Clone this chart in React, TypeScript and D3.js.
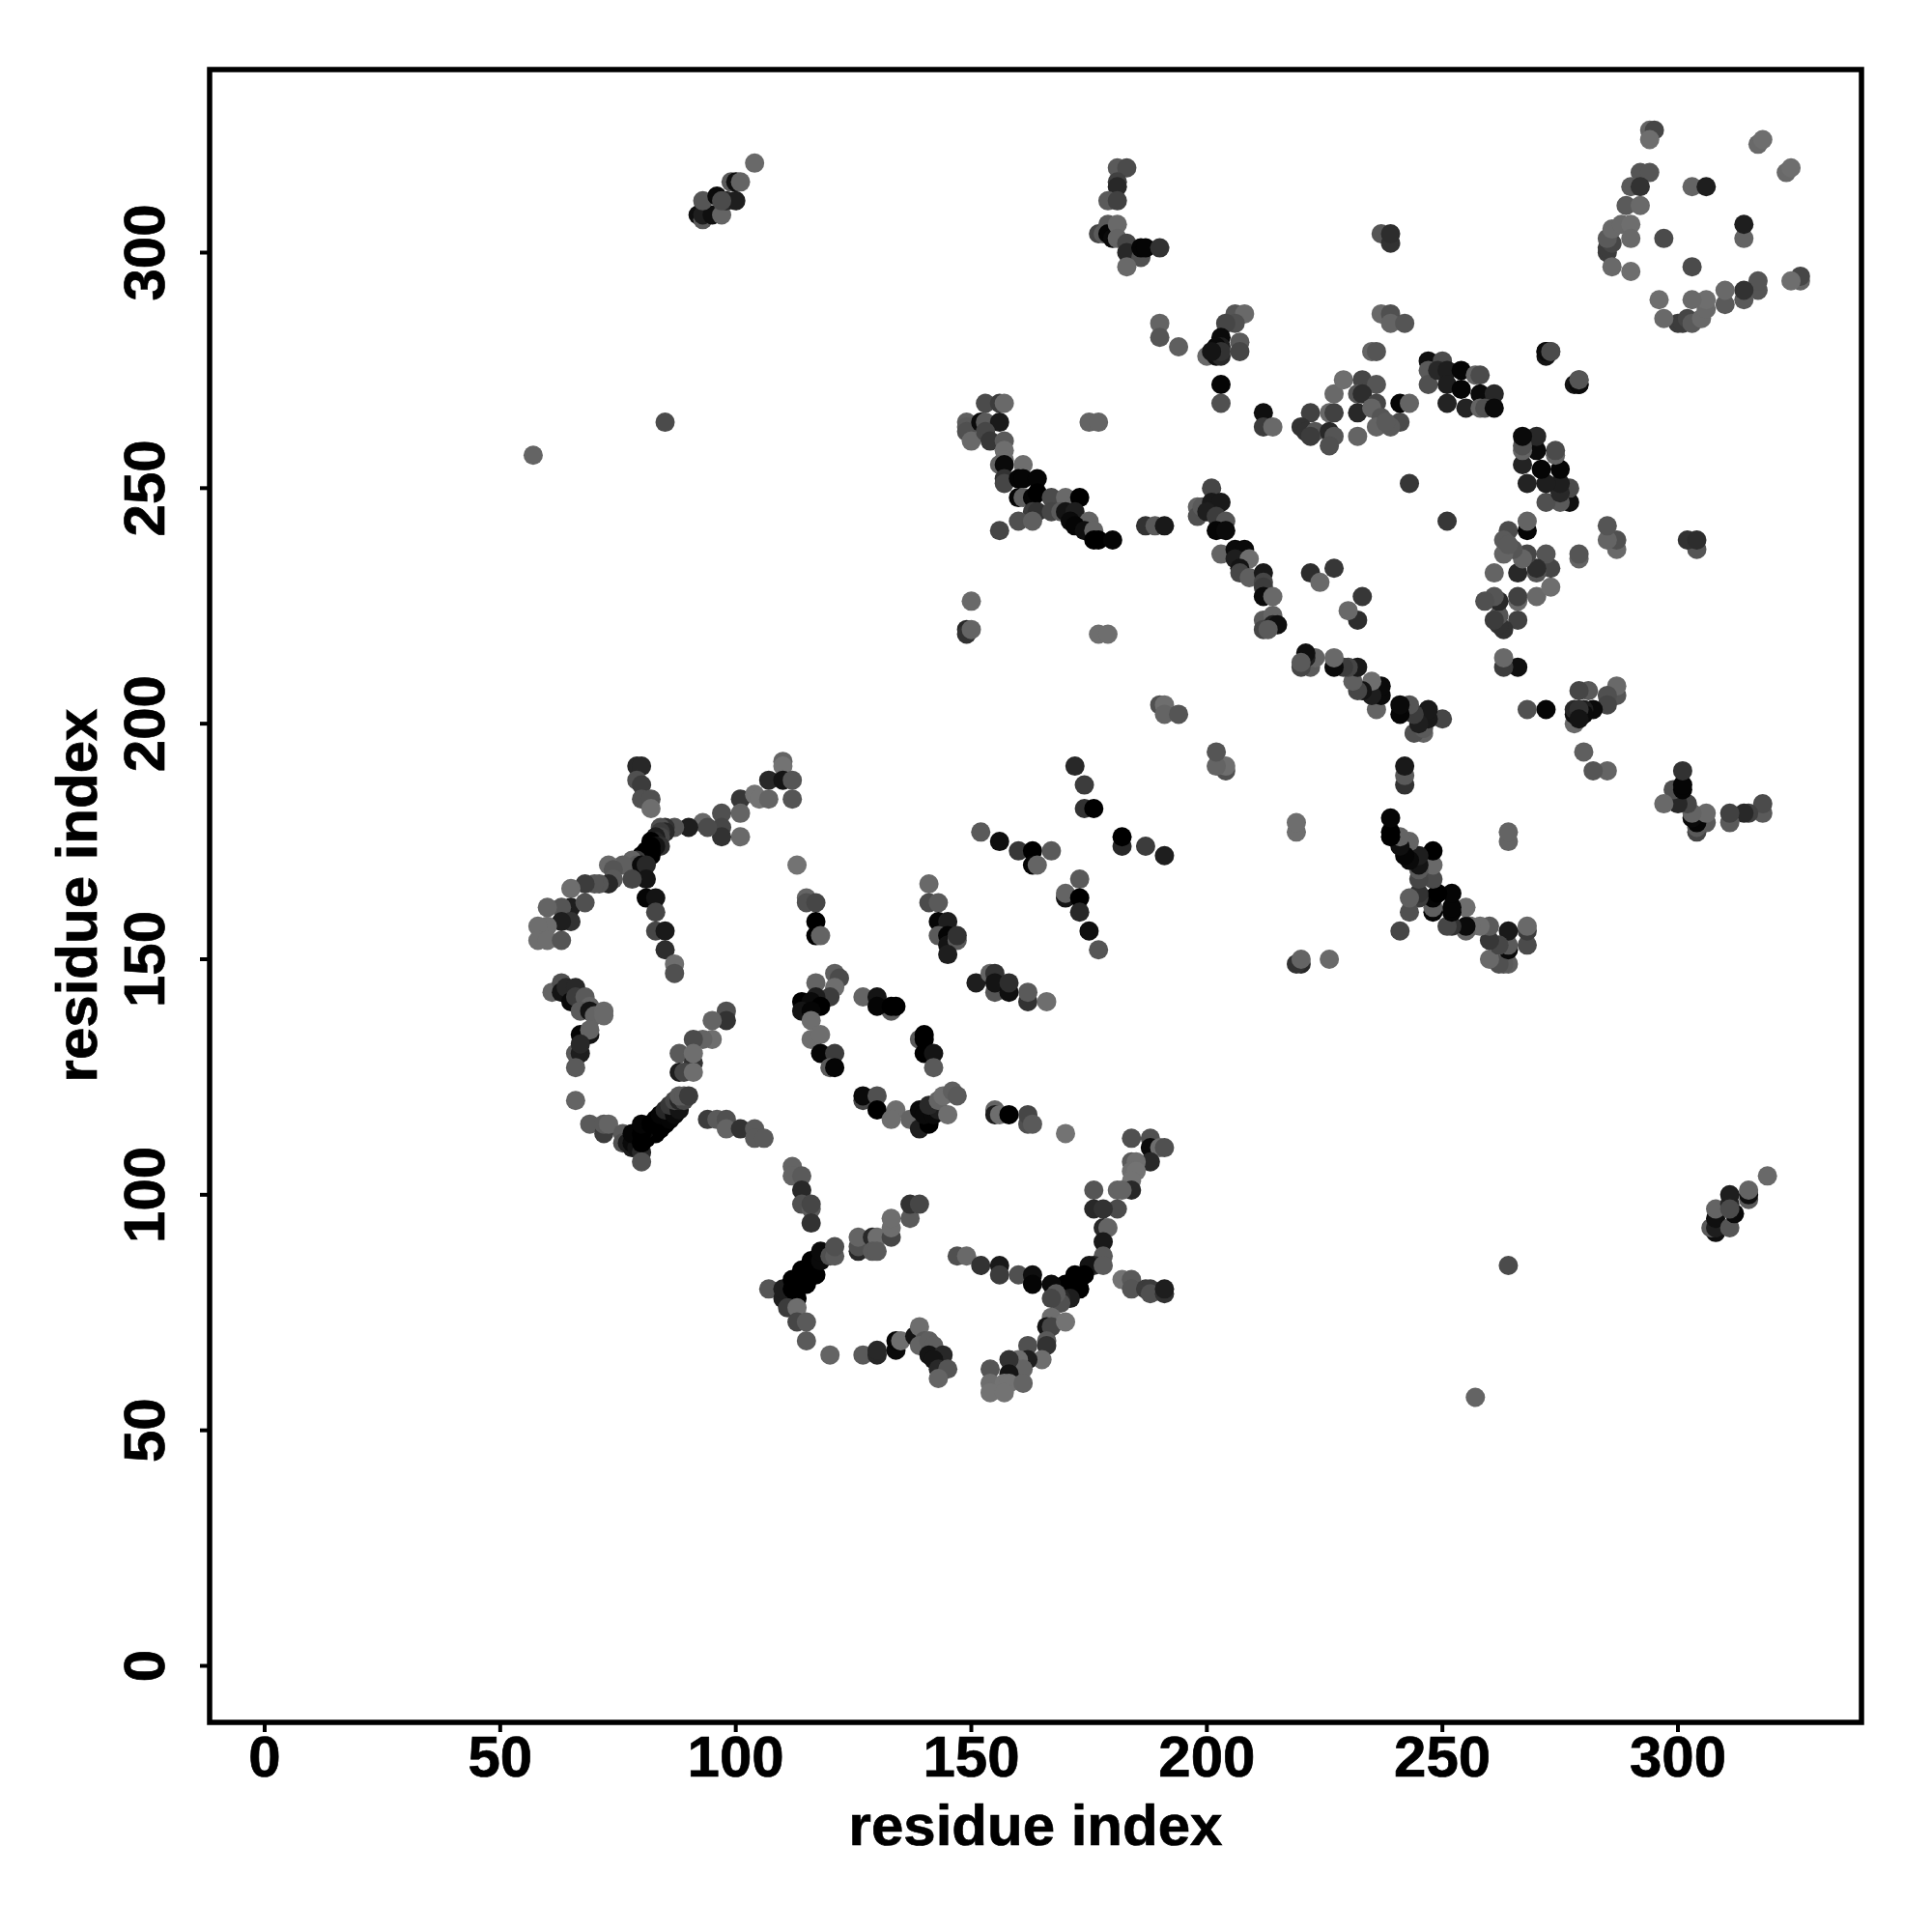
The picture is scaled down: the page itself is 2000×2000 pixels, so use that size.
import React from "react";
import * as d3 from "d3";

type P = [number, number, number];

const xTicks = [0, 50, 100, 150, 200, 250, 300];
const yTicks = [0, 50, 100, 150, 200, 250, 300];
const axisTitle = "residue index";

// Contacts read directly: residue i, residue j, grey level
const lowerCrossA: P[] = [
[79,191,40],[80,191,40],[79,188,80],[80,187,60],[80,184,80],[82,184,80],[82,182,110],
[110,192,100],[110,191,115],[107,188,40],[110,188,20],[112,188,85],[112,184,85],[101,184,55],[104,185,115],[105,184,115],[107,184,100],
[101,181,100],[97,181,80],[101,176,105],[97,178,70],[97,176,50],[93,179,105],[94,178,75],[90,178,30],[87,178,85],[85,178,50],[84,178,80],
[85,177,40],[84,177,60],[84,176,70],[83,176,30],[83,175,40],[82,175,0],[84,174,50],[83,174,20],[82,174,0],[82,173,0],[81,173,0],[81,172,0],[80,172,0],[80,171,0],[82,172,0],[81,171,0],[79,171,60],[78,171,100],[79,170,90],[76,170,95],[73,170,105],[74,169,85],[74,167,90],[80,170,10],[81,170,40],
[81,167,20],[78,167,70],[73,166,40],[71,166,85],[70,166,85],[68,166,60],[65,165,110],[65,161,30],[68,162,80],[63,161,85],[60,161,100],[65,158,50],[63,158,30],[60,157,110],[58,157,110],[58,154,110],[60,154,110],[63,154,85],
[81,163,5],[83,163,20],[83,160,70],[83,156,70],[85,156,25],[85,152,45],[87,149,110],[87,147,80],
];
const lowerCrossB: P[] = [
[61,143,100],[63,145,80],[63,143,20],[64,144,40],[65,141,10],[66,144,40],[66,142,60],[68,142,90],[69,140,100],[67,139,90],[69,139,20],[70,138,100],[72,139,105],[72,138,105],
[67,134,5],[69,134,20],[69,135,100],[66,130,90],[67,130,30],[67,132,40],[66,127,90],[66,120,100],[69,115,90],[72,113,60],[72,115,90],[73,115,100],[76,113,90],[76,111,80],
[78,110,30],[77,111,30],[78,111,10],[79,110,20],[80,109,40],[78,113,5],[80,111,0],[81,112,0],[82,113,0],[83,113,0],[81,114,10],[80,113,0],[80,115,5],[82,115,0],[83,116,0],[84,114,0],[85,115,0],[84,117,5],[86,116,5],[85,118,40],[87,117,10],[86,119,55],[88,118,20],[87,120,70],[88,120,40],[89,120,70],[88,121,90],[89,121,90],[90,121,60],[80,107,80],
[94,116,60],[96,116,90],[98,116,80],[98,114,100],[101,114,50],[104,114,90],[104,112,90],[106,112,90],
[98,139,80],[98,137,50],[95,137,100],[95,133,110],[93,133,100],[91,133,75],[88,130,90],[91,128,50],[91,130,110],[88,126,30],[89,126,70],[91,126,110],
[115,163,100],[115,162,80],[117,162,70],[117,158,0],[117,155,0],[118,155,100],[113,170,115],
[141,166,105],[141,162,75],[143,162,90],[143,158,5],[145,158,30],[143,155,90],[145,155,5],[145,153,20],[147,154,90],[147,155,50],[145,151,30],
];
const innerLoop: P[] = [
[121,147,95],[122,146,75],[121,144,110],[117,145,100],[120,142,60],[117,142,30],[114,141,0],[116,141,10],[118,140,0],[114,139,20],[116,139,5],[116,137,110],[116,133,110],[118,134,110],[118,130,5],[121,130,60],[120,127,90],[121,127,5],
[127,142,100],[130,142,20],[133,139,90],[130,140,5],[133,140,0],[134,140,0],
[139,133,90],[140,134,0],[140,133,0],[140,130,0],[142,130,20],[142,127,90],
[127,120,70],[127,121,10],[130,121,80],[130,118,0],[134,118,110],[133,116,110],[137,116,100],[139,114,30],[139,118,10],[141,115,0],[140,117,10],[142,117,10],[143,118,30],[141,119,40],[143,120,100],[145,117,110],[144,121,110],[146,122,95],[147,121,90],
];
const centreCross: P[] = [
[172,191,40],[174,187,60],[174,182,50],[176,182,0],[182,174,40],[182,176,0],[187,174,60],[191,172,30],
[152,177,90],[156,175,15],[160,173,55],[163,173,0],[167,173,90],[163,170,5],[164,170,100],
[173,167,90],[170,163,20],[170,164,100],[173,163,0],[173,160,40],[175,156,15],[177,152,85],
[151,145,30],[154,147,100],[155,143,85],[155,147,50],[155,145,20],[158,143,15],[158,145,45],[162,141,50],[162,143,90],[166,141,110],
[155,118,100],[155,117,30],[156,117,110],[158,117,0],[162,115,80],[162,117,70],[163,115,90],[170,113,115],
];
const lowerRightArm: P[] = [
[184,112,80],[188,112,80],[188,110,10],[190,110,110],[191,110,80],[188,107,40],[184,107,90],[185,107,110],[184,105,110],[185,105,115],[184,103,115],[184,101,40],[181,101,100],[182,101,100],[176,101,85],
[181,97,75],[176,97,40],[178,97,50],[178,93,40],[179,93,100],[178,90,25],[178,87,90],[176,85,40],[175,85,20],[178,85,90],[174,83,0],[172,83,0],[173,80,0],[171,81,0],[170,81,0],[171,78,30],[169,78,40],[169,77,80],[167,81,10],[168,79,90],[167,78,70],
[167,74,110],[166,72,20],[167,72,70],[170,73,115],[166,69,90],[166,68,50],[165,65,110],[162,68,80],[162,65,30],[160,65,110],[161,63,100],[158,65,50],[158,62,20],[154,63,85],[154,60,110],[157,60,115],[158,60,115],[161,60,100],[154,58,115],[157,58,115],
[147,87,80],[149,87,105],[152,85,50],[156,85,25],[156,83,60],[160,83,80],[163,83,15],[163,81,5],
[182,82,115],[184,82,90],[184,80,85],[187,80,60],[188,80,60],[188,79,80],[191,79,50],[191,80,30],
];
const lowerLeftArm: P[] = [
[112,106,100],[112,104,100],[114,104,90],[114,101,40],[114,98,80],[116,97,90],[116,98,70],[116,94,50],
[107,80,85],[110,78,30],[110,80,30],[113,78,0],[112,80,0],[113,80,0],[112,82,0],[114,82,0],[115,81,0],[114,84,0],[117,83,0],[116,86,0],[118,86,10],[118,88,10],[120,87,80],[121,87,90],[121,89,80],
[111,76,60],[113,76,110],[113,73,70],[115,73,90],[115,69,90],[120,66,100],
[126,88,40],[126,89,80],[126,91,100],[129,91,40],[130,91,110],[129,88,90],[130,88,90],[133,91,70],[133,93,110],[133,95,110],[137,95,90],[137,98,50],[139,98,70],
[127,66,90],[130,66,40],[130,67,40],[134,67,10],[134,69,5],[135,69,110],[138,70,20],[139,72,110],[140,69,90],[139,68,100],[141,69,95],[142,68,95],[141,66,20],[144,66,40],[142,65,20],[143,63,40],[145,63,85],[143,61,100],
];

// Contacts above the diagonal; each one is also drawn at its mirror position
const farContacts: P[] = [
[57,257,100],[85,264,75],
[92,308,15],[93,307,90],[93,308,30],[95,308,15],[97,308,100],[93,311,85],[96,312,10],[98,311,40],[100,311,30],[97,311,75],[99,315,90],[100,315,15],[101,315,100],[104,319,105],
];
const strandNear155: P[] = [
[153,268,75],[156,268,60],[157,268,105],[149,264,95],[149,263,90],[149,262,80],[150,260,105],[152,264,10],[153,264,90],[156,264,25],[153,262,70],[154,260,55],
[157,260,90],[157,258,110],[157,256,110],[156,255,100],[157,255,10],[157,252,50],[157,251,70],[161,255,110],
[160,252,5],[161,252,5],[164,252,5],[160,248,5],[161,248,95],[163,248,5],[164,249,0],[163,245,60],[164,245,50],[160,243,80],[163,243,95],[156,241,70],
[167,248,75],[170,248,105],[173,248,0],[167,245,70],[169,245,90],[170,245,20],[172,245,30],[171,243,10],[175,243,100],[172,242,5],[174,241,15],[176,241,100],[176,239,0],[177,239,0],[180,239,5],
[187,242,50],[189,242,90],[191,242,25],
[175,264,100],[177,264,100],[150,226,105],[149,220,40],[149,219,50],[150,220,100],[177,219,110],[179,219,110],
[190,204,80],[191,204,110],[191,202,100],[194,202,85],
];
const strandNear205: P[] = [
[201,250,70],[198,246,100],[198,244,80],[199,246,90],[201,247,25],[203,247,25],[200,245,30],[202,244,60],[204,243,85],[202,241,5],[204,241,10],
[203,236,100],[206,237,10],[208,237,10],[206,235,30],[209,235,110],[207,233,20],[207,232,70],[209,231,95],[212,232,25],[212,230,70],[212,229,60],[212,227,10],[214,227,105],
[212,222,90],[212,220,70],[214,223,100],[214,221,30],[215,221,15],[213,220,90],
[222,232,45],[227,233,55],[224,230,105],
];
const clusterNear180: P[] = [
[181,318,90],[183,318,75],[181,315,65],[181,314,40],[179,311,90],[181,311,65],[177,304,70],[178,304,90],[179,306,90],[179,304,5],[180,303,10],[181,306,105],[181,303,100],[183,302,70],[183,300,40],[186,299,80],[186,301,5],[187,301,5],[190,301,50],[183,297,105],
[190,285,100],[190,282,85],[194,280,95],
[206,287,85],[208,287,105],[206,285,80],[204,285,70],[203,282,10],[207,281,90],[207,279,70],[203,280,30],[202,280,10],[200,278,105],[202,278,15],[203,278,40],[203,279,50],[201,279,20],[203,272,5],[203,268,80],
];
const clusterNear230: P[] = [
[212,266,15],[212,263,60],[214,263,105],
[222,266,65],[220,263,50],[221,262,50],[223,262,85],[222,261,60],[226,266,105],[227,266,65],[226,262,40],[227,261,85],[226,259,80],[227,270,105],[229,273,110],
[233,273,70],[236,272,85],[232,270,85],[233,270,45],[232,266,40],[236,268,70],[235,267,100],[237,265,85],[241,264,75],[232,261,100],[236,263,100],[239,263,90],[238,264,90],[241,268,5],[243,268,100],
[235,279,100],[236,279,85],[237,287,105],[239,287,80],[239,285,100],[242,285,85],[237,304,85],[239,302,50],[239,304,45],[243,251,55],
];
const clusterNear255: P[] = [
[247,277,15],[247,275,90],[247,272,80],[250,277,75],[249,275,40],[251,275,30],[251,272,30],[254,275,5],[254,271,5],[257,274,100],[258,274,75],[258,270,10],[261,270,40],[251,268,35],[255,267,35],[258,267,100],[259,267,80],[261,267,10],
[272,279,10],[273,279,85],[278,272,20],[279,272,10],[279,273,75],
];
const clusterNear295: P[] = [
[294,326,100],[295,326,70],[294,324,110],[292,317,85],[294,317,85],[290,314,90],[292,314,50],[289,310,90],[292,310,105],
[285,300,60],[285,301,60],[286,302,70],[285,303,90],[286,305,105],[288,306,105],[290,306,110],[290,303,105],[286,297,105],[290,296,110],
[297,303,75],[303,314,100],[306,314,30],[317,323,105],[318,324,110],
];

const directContacts = [...lowerCrossA, ...lowerCrossB, ...innerLoop, ...centreCross, ...lowerRightArm, ...lowerLeftArm];
const mirroredContacts = [...farContacts, ...strandNear155, ...strandNear205, ...clusterNear180, ...clusterNear230, ...clusterNear255, ...clusterNear295];

export default function App() {
  const x = d3.scaleLinear().domain([0, 300]).range([274, 1737]);
  const y = d3.scaleLinear().domain([0, 300]).range([1724.5, 261.5]);
  const left = 217, right = 1927, top = 72, bottom = 1783;
  const font = "'Liberation Sans', Arial, Helvetica, sans-serif";
  const grey = (g: number) => d3.rgb(g, g, g).formatHex();
  const all: P[] = [...directContacts, ...mirroredContacts, ...mirroredContacts.map(([a, b, g]) => [b, a, g] as P)];
  const label = { fontFamily: font, fontWeight: "bold" as const, fontSize: 60, stroke: "#000", strokeWidth: 0.7 };
  return (
    <svg width={2000} height={2000} style={{ position: "absolute", left: 0, top: 0, background: "#fff" }}>
      {all.map(([a, b, g], k) => (
        <circle key={k} cx={x(a)} cy={y(b)} r={10} fill={grey(g)} />
      ))}
      <rect x={left} y={top} width={right - left} height={bottom - top} fill="none" stroke="#000" strokeWidth={5.5} />
      {xTicks.map((t) => (
        <g key={t}>
          <line x1={x(t)} x2={x(t)} y1={bottom} y2={bottom + 10} stroke="#000" strokeWidth={4} />
          <text x={x(t)} y={1839} textAnchor="middle" {...label}>{t}</text>
        </g>
      ))}
      {yTicks.map((t) => (
        <g key={t}>
          <line x1={left} x2={left - 10} y1={y(t)} y2={y(t)} stroke="#000" strokeWidth={4} />
          <text transform={`translate(170,${y(t)}) rotate(-90)`} textAnchor="middle" {...label}>{t}</text>
        </g>
      ))}
      <text x={1072} y={1910} textAnchor="middle" {...label}>{axisTitle}</text>
      <text transform="translate(100,927) rotate(-90)" textAnchor="middle" {...label}>{axisTitle}</text>
    </svg>
  );
}
